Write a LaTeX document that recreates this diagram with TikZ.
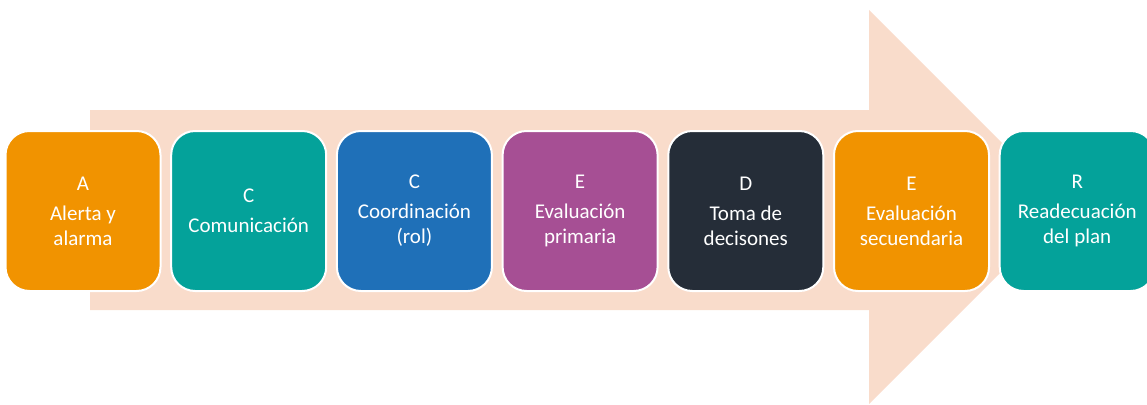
\documentclass[tikz,border=0pt]{standalone}
\usepackage{fontspec}
\setmainfont{Carlito}
\definecolor{aorange}{HTML}{F19300}
\definecolor{ateal}{HTML}{04A29A}
\definecolor{ablue}{HTML}{1F70B8}
\definecolor{apurple}{HTML}{A64F94}
\definecolor{adark}{HTML}{252D38}
\definecolor{apeach}{HTML}{F9DCCB}
\begin{document}
\begin{tikzpicture}[x=1pt,y=-1pt,
  stepbox/.style={draw=white,line width=2pt,rounded corners=24pt,minimum width=155pt,minimum height=160pt,
    text=white,align=center,font=\fontsize{21}{25}\selectfont,inner sep=0pt}]
\useasboundingbox (0,0) rectangle (1147,404);
\fill[apeach] (90,110) -- (869,110) -- (869,10) -- (1066,207) -- (869,404) -- (869,310) -- (90,310) -- cycle;
\node[stepbox,fill=aorange] (a) at (83,211) {A\\[5pt]Alerta y\\alarma};
\node[stepbox,fill=ateal] (c1) at (248.7,211) {C\\[5pt]Comunicación};
\node[stepbox,fill=ablue] (c2) at (414.4,211) {C\\[5pt]Coordinación\\(rol)};
\node[stepbox,fill=apurple] (e1) at (580.1,211) {E\\[5pt]Evaluación\\primaria};
\node[stepbox,fill=adark] (d) at (745.8,211) {D\\[5pt]Toma de\\decisones};
\node[stepbox,fill=aorange] (e2) at (911.5,211) {E\\[5pt]Evaluación\\secuendaria};
\node[stepbox,fill=ateal] (r) at (1077.2,211) {R\\[5pt]Readecuación\\del plan};
\end{tikzpicture}
\end{document}
